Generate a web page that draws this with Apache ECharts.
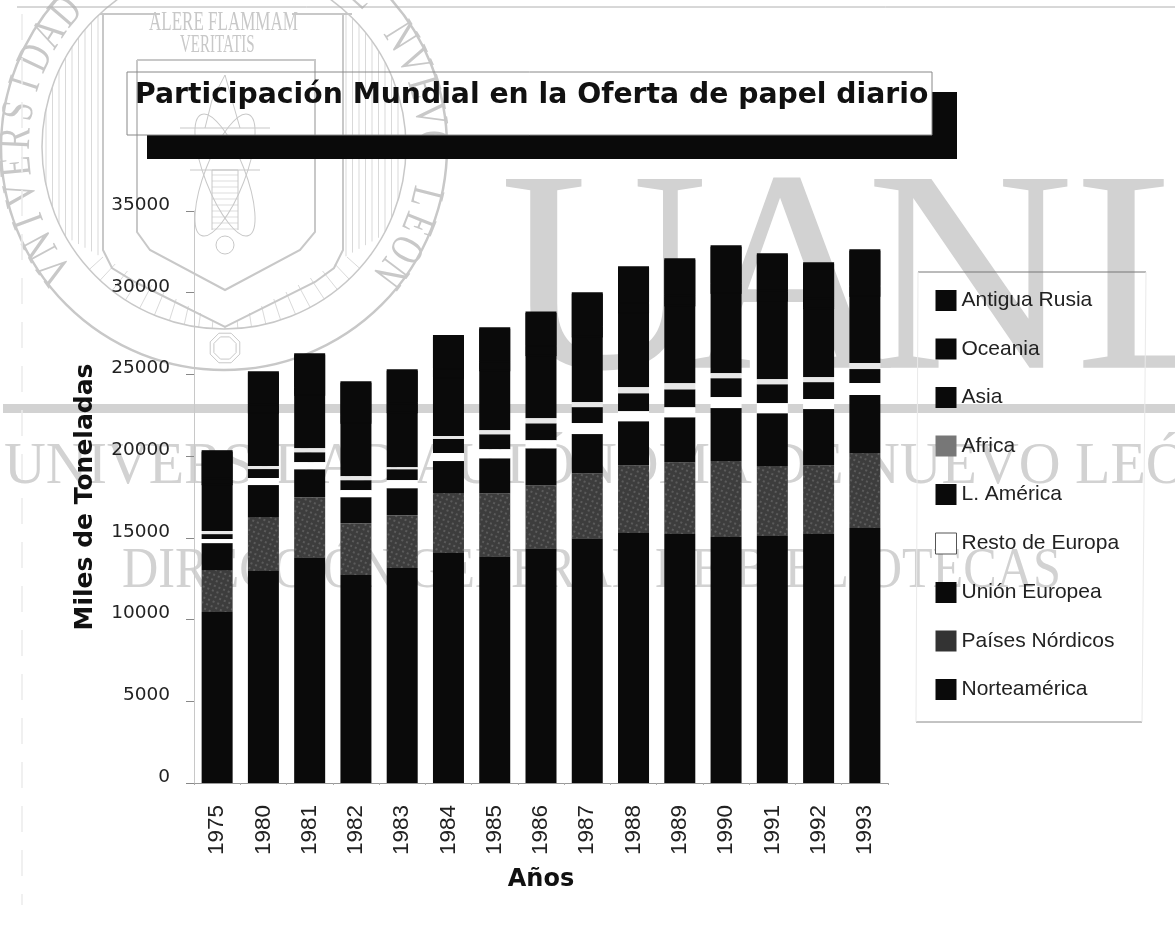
<!DOCTYPE html>
<html><head><meta charset="utf-8"><style>html,body{margin:0;background:#fff}#c{width:1175px;height:944px}</style>
<script src="https://cdn.jsdelivr.net/npm/echarts@6/dist/echarts.min.js"></script></head><body><div id="c"></div>
<script>
const years=['1975','1980','1981','1982','1983','1984','1985','1986','1987','1988','1989','1990','1991','1992','1993'];
const norteamerica=[10460,12970,13820,12720,13150,14070,13880,14370,14980,15290,15230,15050,15110,15230,15600];
const nordicos=[2570,3300,3670,3180,3240,3670,3850,3850,3980,4160,4400,4650,4280,4220,4590];
const unionEuropea=[1650,1960,1710,1590,1650,1960,2140,2260,2390,2690,2750,3240,3240,3430,3550];
const restoEuropa=[245,430,430,430,490,490,550,490,670,610,610,670,610,610,730];
const lAmerica=[305,550,610,610,670,860,920,1040,980,1100,1100,1160,1160,1040,860];
const africa=[185,180,245,245,120,180,245,305,305,365,365,305,305,305,365];
const asia=[2900,3300,3300,3300,3400,3600,3700,3900,4050,4600,4800,4950,4850,4250,4150];
const oceania=[350,510,510,510,540,550,550,570,580,600,620,630,620,610,620];
const antiguaRusia=[1700,2000,2000,2000,2050,2030,2050,2070,2100,2200,2230,2250,2240,2170,2200];
const yTicks=['0','5000','10000','15000','20000','25000','30000','35000'];

const WM='#d2d2d2', SL='#c8c8c8';
const el=[];
const line=(x1,y1,x2,y2,w,c,dash)=>el.push({type:'line',silent:true,z:0,shape:{x1,y1,x2,y2},style:{stroke:c||SL,lineWidth:w||1,lineDash:dash}});
const poly=(points,w,c,close)=>el.push({type:close?'polygon':'polyline',silent:true,z:0,shape:{points},style:{fill:null,stroke:c||SL,lineWidth:w||1}});
const txt=(text,x,y,font,fill,extra)=>el.push(Object.assign({type:'text',silent:true,z:0,x,y,style:{text,font,fill:fill||WM}},extra||{}));
const serif=s=>s+'px "Liberation Serif"';
// big watermark
txt('U',500,148,serif(288));txt('A',685,148,serif(288));txt('N',866,148,serif(288));txt('L',1075,148,serif(288));
el.push({type:'rect',silent:true,z:0,shape:{x:3,y:404,width:1172,height:9},style:{fill:WM}});
txt('UNIVERSIDAD AUTÓNOMA DE NUEVO LEÓN',4,437,serif(60),WM,{scaleX:0.965});
txt('DIRECCIÓN GENERAL DE BIBLIOTECAS',122,544,serif(56),WM,{scaleX:0.897});
// seal
const cx=224,cy=147;
[[223,2.5],[182,1.5]].forEach(a=>el.push({type:'circle',silent:true,z:0,shape:{cx,cy,r:a[0]},style:{fill:null,stroke:SL,lineWidth:a[1]}}));
const ring='VNIVERSIDAD AVTONOMA DE NVEVO LEON';
[...ring].forEach((ch,i)=>{
  const deg=-216+i*(253/(ring.length-1)); const t=deg*Math.PI/180; const r=184;
  el.push({type:'text',silent:true,z:0,x:cx+r*Math.cos(t),y:cy+r*Math.sin(t),rotation:-(t+Math.PI/2),scaleX:.72,
    style:{text:ch,font:serif(46),fill:SL,textVerticalAlign:'bottom',textAlign:'center'}});
});
for(let x=46;x<=100;x+=6.5){const d=Math.sqrt(182*182-(x-cx)*(x-cx));const e=Math.min(cy+d,258+(x-103)*.57);line(x,Math.max(cy-d,0),x,e,.7);}
for(let x=346;x<=402;x+=6.5){const d=Math.sqrt(182*182-(x-cx)*(x-cx));const e=Math.min(cy+d,258+(343-x)*.57);line(x,Math.max(cy-d,0),x,e,.7);}
for(let i=0;i<=20;i++){const px=103+i*12.2,py=i<=10?257+i*7:327-(i-10)*7;const dx=px-cx,dy=py-cy,L=Math.hypot(dx,dy);if(L<182)line(px,py,cx+dx/L*182,cy+dy/L*182,.7);}
poly([[103,14],[103,250],[112,268],[135,282],[225,327],[315,282],[334,268],[343,250],[343,14]],2);
poly([[137,60],[137,232],[150,250],[225,290],[300,250],[315,232],[315,60],[137,60]],2);
[[130,14],[322,14]].forEach(a=>line(a[0]-30,a[1],a[0]+30,a[1],2));
txt('ALERE FLAMMAM',149,9,serif(27),SL,{scaleX:.63});
txt('VERITATIS',180,33,serif(25),SL,{scaleX:.6});
poly([[212,230],[212,170],[238,170],[238,230]],1);
for(let y=175;y<230;y+=6)line(212,y,238,y,.6);
line(180,128,270,128,1.2);line(190,170,260,170,1.2);poly([[205,128],[212,100],[225,75],[232,100],[240,128]],1);
el.push({type:'circle',silent:true,z:0,shape:{cx:225,cy:245,r:9},style:{fill:null,stroke:SL,lineWidth:1}});
[.6,-.6].forEach(a=>el.push({type:'ellipse',silent:true,z:0,rotation:a*2,originX:225,originY:175,shape:{cx:225,cy:175,rx:65,ry:20},style:{fill:null,stroke:SL,lineWidth:1}}));
const oct=r=>[...Array(8)].map((_,i)=>[225+r*Math.cos((i+.5)*Math.PI/4),348+r*Math.sin((i+.5)*Math.PI/4)]);
poly(oct(16),1,SL,true);poly(oct(12),1,SL,true);
// scan lines
line(17,7,1175,7,1,'#b0b0b0');
line(22,14,22,905,1.5,'#ececec',[26,18]);
// legend frame
line(918,272,1146,272,1,'#777');line(916,722,1142,722,1,'#888');
line(918,272,916,722,1,'#eaeaea');line(1146,272,1142,722,1,'#eaeaea');
// title box + shadow
el.push({type:'polygon',silent:true,z:1,shape:{points:[[932,92],[957,92],[957,159],[147,159],[147,135],[932,135]]},style:{fill:'#0a0a0a'}});
el.push({type:'rect',silent:true,z:1,shape:{x:127,y:72,width:805,height:63},style:{fill:null,stroke:'#888',lineWidth:1}});

const K='#0a0a0a';
const mk=(name,data,color,z)=>({name,type:'bar',stack:'t',barWidth:31,z:z||2,data,itemStyle:{color},emphasis:{disabled:true}});
const seamless=s=>Object.assign(s,{itemStyle:{color:K,shadowColor:K,shadowBlur:0,shadowOffsetY:1.5}});
const textured={color:'#3d3d3d',decal:{symbol:'rect',color:'rgba(170,170,170,0.28)',dashArrayX:[2,3],dashArrayY:[2,3],symbolSize:1,rotation:0.4}};
const series=[
 mk('Norteamérica',norteamerica,K),
 Object.assign(mk('Países Nórdicos',nordicos,'#3d3d3d'),{itemStyle:textured}),
 mk('Unión Europea',unionEuropea,K),
 mk('Resto de Europa',restoEuropa,'#ffffff',3),
 mk('L. América',lAmerica,K),
 mk('Africa',africa,'#e8e8e8',3),
 mk('Asia',asia,K),seamless(mk('Oceania',oceania,K)),seamless(mk('Antigua Rusia',antiguaRusia,K))
];
const legendColors={'Africa':'#777777','Resto de Europa':'#ffffff','Países Nórdicos':'#333333'};
const chart=echarts.init(document.getElementById('c'),null,{renderer:'canvas'});
chart.setOption({animation:false,backgroundColor:'#fff',
 title:{text:'Participación Mundial en la Oferta de papel diario',left:130,top:77,textStyle:{fontFamily:'DejaVu Sans',fontWeight:'bold',fontSize:28.25,color:'#111'}},
 grid:{left:194,right:287,top:211,bottom:161},
 xAxis:{type:'category',data:years,axisTick:{show:true,length:2,lineStyle:{color:'#aaa'}},axisLine:{lineStyle:{color:'#999'}},
   axisLabel:{rotate:90,margin:22,fontFamily:'Liberation Sans',fontSize:22.5,color:'#222'},
   name:'Años',nameLocation:'middle',nameGap:85,nameTextStyle:{fontFamily:'DejaVu Sans',fontWeight:'bold',fontSize:24,color:'#111'}},
 yAxis:{type:'value',min:0,max:35000,interval:5000,splitLine:{show:false},
   axisLine:{show:true,lineStyle:{color:'#c8c8c8'}},axisTick:{show:true,length:8,lineStyle:{color:'#888'}},
   axisLabel:{margin:24,fontFamily:'DejaVu Sans',fontSize:18.5,color:'#222',verticalAlign:'bottom',lineHeight:12,formatter:v=>yTicks[v/5000]},
   name:'Miles de Toneladas',nameLocation:'middle',nameGap:96,nameTextStyle:{fontFamily:'DejaVu Sans',fontWeight:'bold',fontSize:25,color:'#111'}},
 legend:{orient:'vertical',left:930,top:285,itemWidth:21,itemHeight:21,itemGap:27.5,icon:'rect',selectedMode:false,
   textStyle:{fontFamily:'Liberation Sans',fontSize:21,color:'#222'},
   data:series.map(s=>s.name).reverse().map(name=>({name,itemStyle:{color:legendColors[name]||K,decal:'none',shadowOffsetY:0,borderColor:name==='Resto de Europa'?'#555':(legendColors[name]||K),borderWidth:name==='Resto de Europa'?1:0}}))},
 graphic:{elements:el},
 series});
</script></body></html>
